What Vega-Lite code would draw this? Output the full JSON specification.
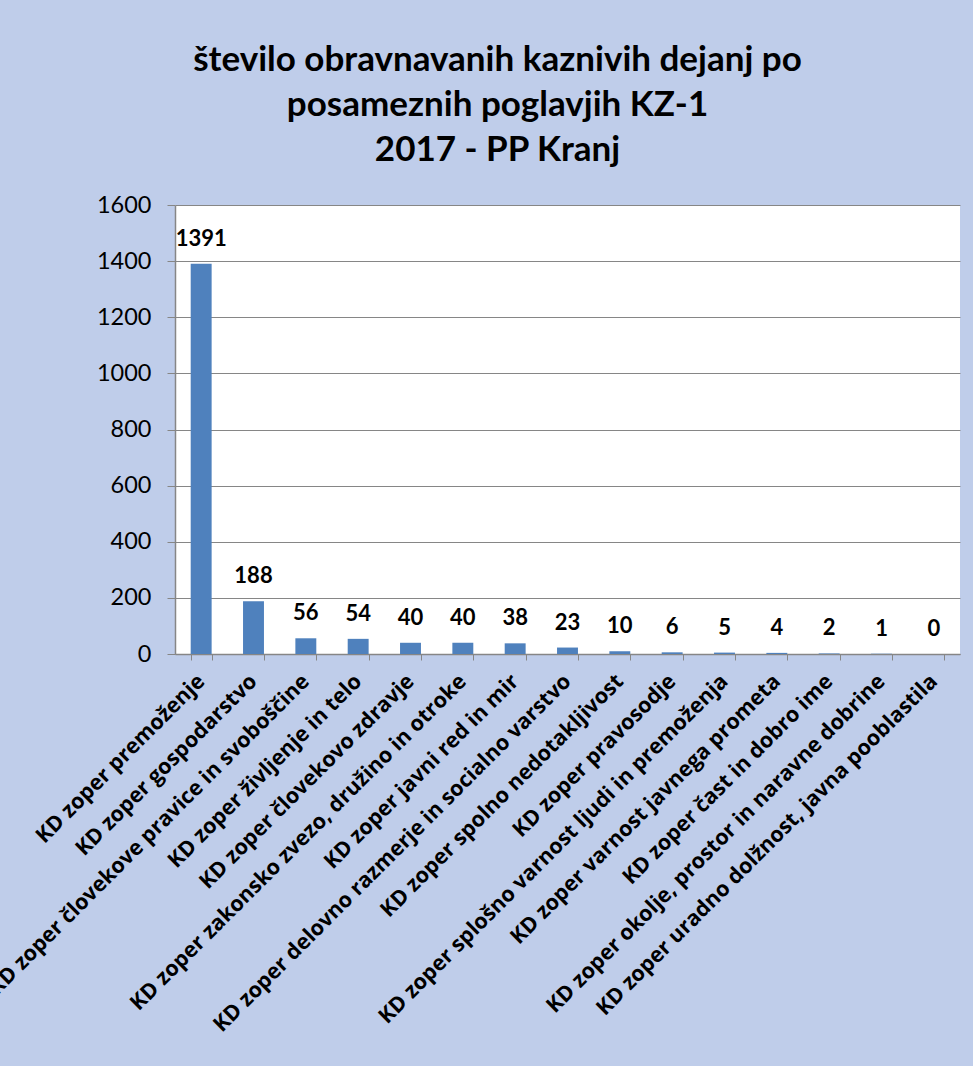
{
  "$schema": "https://vega.github.io/schema/vega-lite/v6.json",
  "width": 785,
  "height": 449,
  "autosize": {"type": "none"},
  "padding": {"left": 175, "top": 205, "right": 13, "bottom": 412},
  "background": "#bfcdea",
  "title": {
    "text": ["število obravnavanih kaznivih dejanj po", "posameznih poglavjih KZ-1", "2017 - PP Kranj"],
    "font": "Lato",
    "fontSize": 35,
    "fontWeight": "bold",
    "color": "#000000",
    "anchor": "middle",
    "dx": -70,
    "offset": 25,
    "lineHeight": 45
  },
  "data": {
    "values": [
      {"kategorija": "KD zoper premoženje", "stevilo": 1391},
      {"kategorija": "KD zoper gospodarstvo", "stevilo": 188},
      {"kategorija": "KD zoper človekove pravice in svoboščine", "stevilo": 56},
      {"kategorija": "KD zoper življenje in telo", "stevilo": 54},
      {"kategorija": "KD zoper človekovo zdravje", "stevilo": 40},
      {"kategorija": "KD zoper zakonsko zvezo, družino in otroke", "stevilo": 40},
      {"kategorija": "KD zoper javni red in mir", "stevilo": 38},
      {"kategorija": "KD zoper delovno razmerje in socialno varstvo", "stevilo": 23},
      {"kategorija": "KD zoper spolno nedotakljivost", "stevilo": 10},
      {"kategorija": "KD zoper pravosodje", "stevilo": 6},
      {"kategorija": "KD zoper splošno varnost ljudi in premoženja", "stevilo": 5},
      {"kategorija": "KD zoper varnost javnega prometa", "stevilo": 4},
      {"kategorija": "KD zoper čast in dobro ime", "stevilo": 2},
      {"kategorija": "KD zoper okolje, prostor in naravne dobrine", "stevilo": 1},
      {"kategorija": "KD zoper uradno dolžnost, javna pooblastila", "stevilo": 0}
    ]
  },
  "encoding": {
    "x": {
      "field": "kategorija",
      "type": "nominal",
      "sort": null,
      "scale": {"paddingInner": 0.6, "paddingOuter": 0.3},
      "axis": {
        "title": null,
        "labelAngle": -45,
        "labelAlign": "right",
        "labelBaseline": "middle",
        "labelFont": "Open Sans",
        "labelFontSize": 21.5,
        "labelFontWeight": "bold",
        "labelColor": "#000000",
        "labelLimit": 0,
        "labelPadding": 18,
        "labelOverlap": false,
        "tickBand": "extent",
        "tickColor": "#868686",
        "tickSize": 6,
        "domainColor": "#868686",
        "domainWidth": 1.5
      }
    },
    "y": {
      "field": "stevilo",
      "type": "quantitative",
      "scale": {"domain": [0, 1600], "nice": false},
      "axis": {
        "title": null,
        "values": [0, 200, 400, 600, 800, 1000, 1200, 1400, 1600],
        "format": "d",
        "labelFont": "Lato",
        "labelFontSize": 23.5,
        "labelColor": "#000000",
        "labelPadding": 16,
        "tickColor": "#868686",
        "tickSize": 8,
        "domainColor": "#868686",
        "domainWidth": 1.5,
        "gridColor": "#868686",
        "gridWidth": 1.2
      }
    }
  },
  "layer": [
    {"mark": {"type": "bar", "color": "#4f81bd"}},
    {
      "mark": {"type": "text", "baseline": "bottom", "dy": -13, "font": "Lato", "fontSize": 22, "fontWeight": "bold", "color": "#000000"},
      "encoding": {"text": {"field": "stevilo", "type": "quantitative"}}
    }
  ],
  "config": {
    "view": {"fill": "#ffffff", "stroke": null}
  }
}
